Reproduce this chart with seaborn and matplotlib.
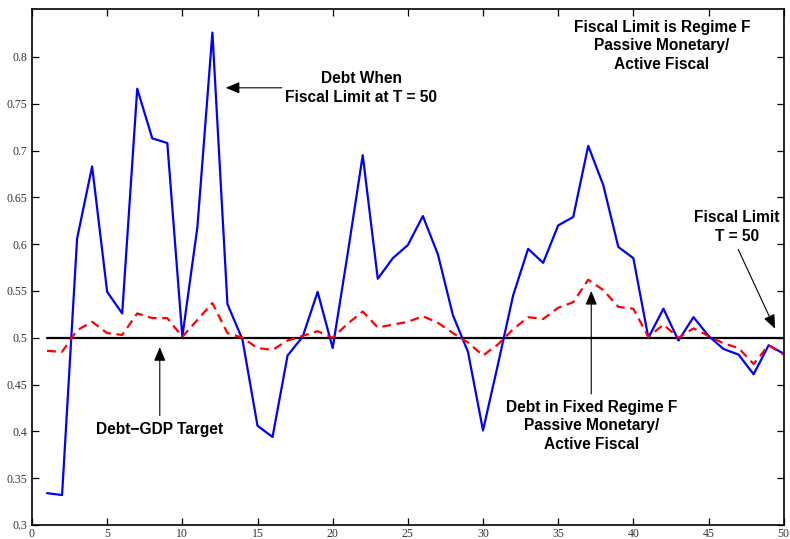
import numpy as np
import pandas as pd
import seaborn as sns
import matplotlib
matplotlib.use("Agg")
import matplotlib.pyplot as plt
from matplotlib.ticker import FuncFormatter

# periods
periods = list(range(1, 51))

# debt when fiscal limit hits at T = 50 (blue)
debt_limit = [0.334, 0.332, 0.606, 0.683, 0.549, 0.526, 0.766, 0.713, 0.708, 0.501,
              0.618, 0.826, 0.536, 0.498, 0.406, 0.394, 0.481, 0.501, 0.549, 0.489,
              0.590, 0.695, 0.563, 0.585, 0.599, 0.630, 0.589, 0.524, 0.485, 0.401,
              0.472, 0.545, 0.595, 0.580, 0.620, 0.629, 0.705, 0.663, 0.597, 0.585,
              0.500, 0.531, 0.497, 0.522, 0.502, 0.488, 0.482, 0.461, 0.492, 0.483]

# debt in fixed regime F (red dashed)
debt_fixed = [0.486, 0.485, 0.508, 0.517, 0.505, 0.503, 0.526, 0.521, 0.521, 0.501,
              0.519, 0.537, 0.505, 0.500, 0.489, 0.487, 0.497, 0.502, 0.507, 0.500,
              0.515, 0.528, 0.511, 0.514, 0.517, 0.523, 0.516, 0.505, 0.495, 0.481,
              0.493, 0.509, 0.522, 0.520, 0.532, 0.538, 0.562, 0.551, 0.533, 0.531,
              0.501, 0.514, 0.500, 0.510, 0.502, 0.494, 0.489, 0.472, 0.492, 0.482]

target = 0.5

df = pd.DataFrame({"t": periods, "limit": debt_limit, "fixed": debt_fixed,
                   "target": [target] * len(periods)})

sns.set_style("ticks")
plt.rcParams['font.family'] = ['Liberation Serif', 'DejaVu Serif']

fig = plt.figure(figsize=(7.9, 5.39), dpi=100)
ax = fig.add_axes([0.0405, 0.026, 0.9515, 0.957])

sns.lineplot(data=df, x="t", y="target", color="black", linewidth=1.6, ax=ax)
sns.lineplot(data=df, x="t", y="limit", color="#0000ff", linewidth=1.6, ax=ax)
sns.lineplot(data=df, x="t", y="fixed", color="#ff0000", linewidth=1.6, ax=ax,
             dashes=False, linestyle=(0, (4, 2.5)))

ax.set_xlim(0, 50)
ax.set_ylim(0.3, 0.851)
ax.set_xticks(np.arange(0, 51, 5))
ax.set_yticks(np.arange(0.3, 0.801, 0.05))
ax.xaxis.set_major_formatter(FuncFormatter(lambda v, p: f"{v:g}"))
ax.yaxis.set_major_formatter(FuncFormatter(lambda v, p: f"{round(v, 2):g}"))
ax.tick_params(direction="in", length=5, width=0.9, labelsize=8.5,
               top=True, right=True, colors="black", labelcolor="#333333")
ax.tick_params(axis="x", pad=2)
ax.set_xlabel("")
ax.set_ylabel("")
for s in ax.spines.values():
    s.set_visible(True)
    s.set_linewidth(1.2)
    s.set_color("black")

tkw = dict(fontsize=11.2, fontweight="bold", family=["Liberation Sans", "DejaVu Sans"],
           ha="center", va="center", linespacing=1.3, color="black")
akw = dict(arrowstyle="-|>,head_length=0.6,head_width=0.25", color="black",
           lw=0.8, mutation_scale=14)

ax.text(21.9, 0.767, "Debt When\nFiscal Limit at T = 50", **tkw)
ax.annotate("", xy=(12.7, 0.767), xytext=(16.8, 0.767), arrowprops=akw)

ax.text(41.9, 0.812, "Fiscal Limit is Regime F\nPassive Monetary/\nActive Fiscal", **tkw)

ax.text(46.9, 0.618, "Fiscal Limit\nT = 50", **tkw)
ax.annotate("", xy=(49.5, 0.507), xytext=(46.9, 0.597), arrowprops=akw)

ax.text(8.5, 0.402, "Debt\u2212GDP Target", **tkw)
ax.annotate("", xy=(8.5, 0.493), xytext=(8.5, 0.414), arrowprops=akw)

ax.text(37.2, 0.406, "Debt in Fixed Regime F\nPassive Monetary/\nActive Fiscal", **tkw)
ax.annotate("", xy=(37.2, 0.553), xytext=(37.2, 0.437), arrowprops=akw)

fig.savefig("out.png", dpi=100)
